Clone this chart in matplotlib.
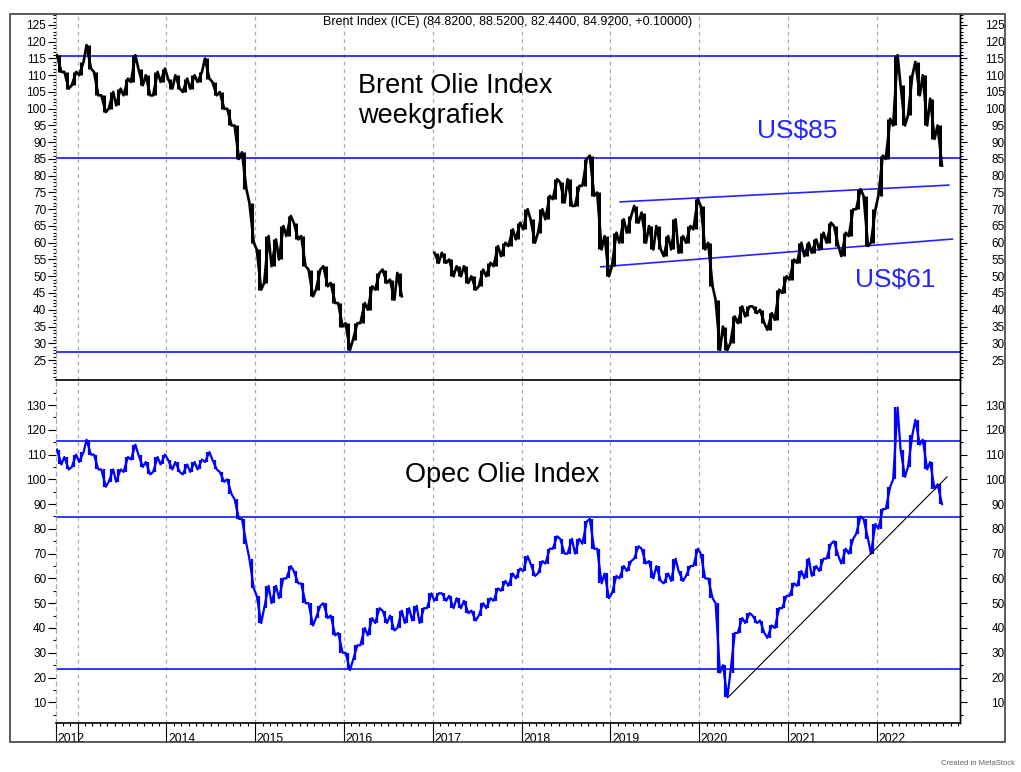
import numpy as np
import pandas as pd
import matplotlib
matplotlib.use('Agg')
import matplotlib.pyplot as plt
from matplotlib.ticker import FixedLocator, MultipleLocator, NullFormatter
from matplotlib.patches import Rectangle

plt.rcParams['font.family'] = ['Liberation Sans', 'DejaVu Sans']

nan = np.nan

# maandelijkse bars (laag / hoog), okt 2012 - sep 2022
months = pd.date_range('2012-10-01', '2022-09-01', freq='MS')

brent_low = [111, 106, 107, 110, 112, 104, 99, 100, 101, 104, 108, 107,
             104, 104, 108, 106, 106, 105, 106, 108, 109, 104, 100, 95,
             85, 76, 60, 46, 48, 53, 55, 62, 61, 53, 44, 46,
             47, 42, 35, 28, 31, 36, 40, 46, 48, 43, 44, nan,
             nan, nan, nan, 54, 54, 50, 50, 48, 46, 47, 50, 53,
             56, 59, 61, 64, 60, 63, 67, 73, 72, 71, 71, 77,
             74, 58, 50, 53, 60, 63, 66, 60, 58, 58, 56, 58,
             57, 60, 64, 58, 47, 28, 28, 30, 36, 38, 39, 36,
             34, 37, 45, 49, 54, 56, 57, 58, 60, 59, 56, 62,
             70, 59, 60, 74, 85, 95, 95, 98, 104, 95, 91, 83]
brent_high = [116, 111, 111, 114, 119, 111, 104, 105, 106, 109, 116, 112,
              110, 111, 112, 109, 110, 109, 110, 111, 115, 108, 105, 100,
              95, 87, 72, 58, 62, 61, 65, 68, 66, 62, 52, 52,
              53, 48, 42, 36, 36, 42, 47, 51, 52, 49, 51, nan,
              nan, nan, nan, 57, 57, 55, 53, 53, 50, 52, 54, 59,
              60, 64, 66, 70, 67, 70, 74, 79, 78, 79, 77, 85,
              86, 75, 62, 63, 67, 68, 71, 69, 65, 65, 62, 67,
              62, 65, 73, 71, 60, 43, 35, 38, 41, 41, 41, 40,
              39, 46, 50, 55, 60, 60, 61, 63, 66, 65, 63, 70,
              76, 74, 70, 86, 97, 116, 107, 110, 114, 110, 103, 95]

opec_low = [106, 104, 105, 107, 110, 104, 97, 99, 99, 103, 108, 105,
            102, 103, 106, 104, 103, 102, 103, 104, 107, 104, 99, 94,
            84, 74, 56, 42, 48, 50, 52, 60, 58, 50, 41, 44,
            44, 37, 30, 23, 27, 33, 37, 42, 42, 39, 40, 42,
            43, 42, 48, 51, 51, 48, 48, 46, 43, 45, 48, 51,
            55, 57, 60, 63, 61, 62, 66, 72, 70, 70, 70, 74,
            72, 58, 52, 54, 60, 63, 68, 66, 60, 59, 58, 59,
            59, 61, 65, 60, 52, 22, 12, 22, 38, 42, 42, 38,
            36, 40, 48, 53, 57, 60, 61, 63, 68, 69, 66, 70,
            78, 76, 70, 80, 88, 100, 101, 105, 114, 104, 96, 90]
opec_high = [112, 109, 110, 111, 116, 110, 104, 104, 104, 109, 114, 110,
             107, 109, 110, 108, 107, 106, 107, 108, 111, 108, 103, 100,
             92, 84, 68, 53, 57, 57, 60, 65, 63, 58, 50, 49,
             50, 45, 38, 30, 33, 40, 44, 48, 47, 45, 47, 48,
             49, 48, 54, 54, 54, 53, 52, 51, 47, 50, 52, 56,
             59, 62, 64, 69, 66, 67, 72, 77, 76, 76, 76, 83,
             84, 72, 62, 61, 65, 67, 73, 72, 67, 65, 62, 68,
             63, 65, 72, 70, 60, 50, 25, 38, 44, 46, 45, 43,
             41, 48, 53, 58, 63, 68, 65, 68, 74, 75, 72, 76,
             85, 84, 82, 88, 97, 129, 112, 118, 124, 116, 107, 98]

brent_levels = [115.7, 85.3, 27.4]
opec_levels = [115.6, 84.9, 23.3]
channel_top = [(2019.11, 72.2), (2022.81, 77.2)]
channel_bottom = [(2018.89, 52.8), (2022.85, 61.1)]
opec_trend = [(2020.33, 12.2), (2022.79, 101.0)]

year_ticks = list(range(2013, 2023))
label_years = ['2012', '2014', '2015', '2016', '2017', '2018', '2019', '2020', '2021', '2022']

x0, x1 = 2012.756, 2022.936
W, H = 1021, 772
BLUE = '#0000ff'
LINE_BLUE = '#2424ff'
GRID = '#a8a8a8'


def fx(px):
    return px / W


def fy(py):
    return 1 - py / H


def zigzag(xc, lo, hi, half=1 / 40):
    # per maand van laag naar hoog (stijgend) of hoog naar laag (dalend)
    mid = (lo + hi) / 2
    trend = np.gradient(mid)
    xs, ys = [], []
    for xi, l, h, t in zip(xc, lo, hi, trend):
        xs += [xi - half, xi + half]
        ys += [l, h] if t >= 0 else [h, l]
    return np.array(xs), np.array(ys)


x = np.asarray(months.year + (months.month - 1) / 12 + 1 / 24, float)
minor_x = [d.year + (d.month - 1) / 12 for d in pd.date_range('2012-10-01', '2022-12-01', freq='MS')]

fig = plt.figure(figsize=(W / 100, H / 100), dpi=100)
ax1 = fig.add_axes([fx(56), fy(379.5), fx(960) - fx(56), fy(14) - fy(379.5)])
ax2 = fig.add_axes([fx(56), fy(723), fx(960) - fx(56), fy(379.5) - fy(723)])

panels = [
    (ax1, (19.18, 128.28), range(25, 126, 5), MultipleLocator(1)),
    (ax2, (1.64, 140.3), range(10, 131, 10), FixedLocator(range(5, 140, 10))),
]

for ax, ylim, majors, minors in panels:
    ax.set_xlim(x0, x1)
    ax.set_ylim(*ylim)
    ax.patch.set_visible(False)
    ax.spines['top'].set_visible(False)
    ax.spines['left'].set_color(GRID)
    ax.spines['left'].set_linestyle((0, (3, 3)))
    ax.spines['left'].set_linewidth(0.9)
    ax.spines['right'].set_linewidth(1.0)
    ax.spines['bottom'].set_linewidth(1.2)
    ax.spines['bottom'].set_color('black')
    for yr in year_ticks:
        ax.axvline(yr, color=GRID, lw=0.9, ls=(0, (3, 3)), zorder=0)
    ax.yaxis.set_major_locator(FixedLocator(list(majors)))
    ax.yaxis.set_minor_locator(minors)
    ax.tick_params(axis='y', which='major', direction='out', length=6, width=0.8,
                   labelsize=8.5, pad=1)
    ax.tick_params(axis='y', which='minor', direction='out', length=2.5, width=0.8)

    # rechter as met rechts uitgelijnde labels
    r = ax.twinx()
    r.set_ylim(*ylim)
    r.patch.set_visible(False)
    for s in ('left', 'top', 'bottom'):
        r.spines[s].set_visible(False)
    r.spines['right'].set_linewidth(1.0)
    r.yaxis.set_major_locator(FixedLocator(list(majors)))
    r.yaxis.set_minor_locator(minors)
    r.tick_params(axis='y', which='major', direction='out', length=5, width=0.8,
                  labelsize=8.5, pad=27)
    r.tick_params(axis='y', which='minor', direction='out', length=2.5, width=0.8)
    plt.setp(r.get_yticklabels(), ha='right')

ax1.tick_params(axis='x', which='both', bottom=False, labelbottom=False)

ax2.xaxis.set_major_locator(FixedLocator([x0] + year_ticks))
ax2.xaxis.set_major_formatter(NullFormatter())
ax2.xaxis.set_minor_locator(FixedLocator(minor_x))
ax2.tick_params(axis='x', which='major', direction='out', length=13.5, width=0.8)
ax2.tick_params(axis='x', which='minor', direction='out', length=2.5, width=0.8)
for pos, lab in zip([x0] + year_ticks[1:], label_years):
    ax2.annotate(lab, xy=(pos, 0), xycoords=('data', 'axes fraction'),
                 xytext=(1.5, -19), textcoords='offset pixels',
                 ha='left', va='baseline', fontsize=8.8)

# Brent bars
b_lo = np.array(brent_low, float)
b_hi = np.array(brent_high, float)
zx, zy = zigzag(x, b_lo, b_hi)
ax1.plot(zx, zy, color='black', lw=1.9, zorder=3)
ax1.vlines(x, b_lo, b_hi, color='black', lw=2.2, zorder=3)
for lv in brent_levels:
    ax1.axhline(lv, color=LINE_BLUE, lw=1.3, zorder=2)
for line in (channel_top, channel_bottom):
    ax1.plot([p[0] for p in line], [p[1] for p in line], color=LINE_BLUE, lw=1.2, zorder=2)

# Opec bars
o_lo = np.array(opec_low, float)
o_hi = np.array(opec_high, float)
zx, zy = zigzag(x, o_lo, o_hi)
ax2.plot(zx, zy, color=BLUE, lw=1.6, zorder=3)
ax2.vlines(x, o_lo, o_hi, color=BLUE, lw=1.6, zorder=3)
for lv in opec_levels:
    ax2.axhline(lv, color=LINE_BLUE, lw=1.3, zorder=2)
ax2.plot([p[0] for p in opec_trend], [p[1] for p in opec_trend], color='black', lw=0.8, zorder=4)

# teksten
fig.text(fx(508), fy(22), 'Brent Index (ICE) (84.8200, 88.5200, 82.4400, 84.9200, +0.10000)',
         ha='center', va='center', fontsize=9)
fig.text(fx(358), fy(92.7), 'Brent Olie Index', fontsize=19.5, va='baseline')
fig.text(fx(358), fy(123.3), 'weekgrafiek', fontsize=19.5, va='baseline')
fig.text(fx(757), fy(138), 'US$85', fontsize=19, va='baseline', color=LINE_BLUE)
fig.text(fx(855), fy(287), 'US$61', fontsize=19, va='baseline', color=LINE_BLUE)
fig.text(fx(405), fy(482), 'Opec Olie Index', fontsize=19.5, va='baseline')
fig.text(fx(1015), fy(765), 'Created in MetaStock', ha='right', va='baseline',
         fontsize=5.5, color='#606060')

fig.add_artist(Rectangle((fx(10), fy(742)), fx(1005) - fx(10), fy(14) - fy(742),
                         transform=fig.transFigure, fill=False, ec='#404040', lw=1.2))

fig.savefig('out.png', dpi=100)
